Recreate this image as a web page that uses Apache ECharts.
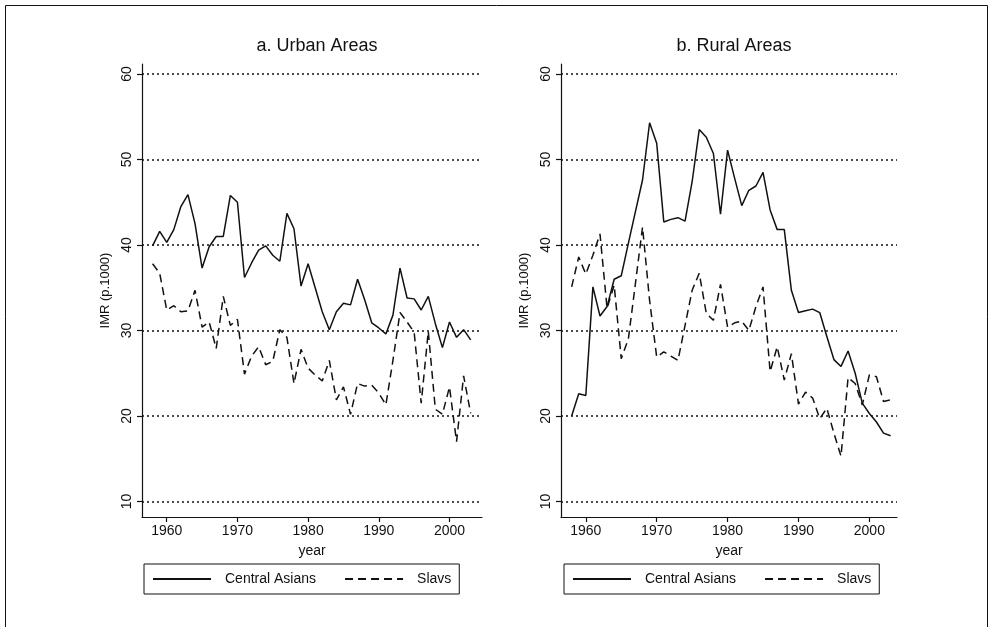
<!DOCTYPE html>
<html>
<head>
<meta charset="utf-8">
<script src="https://cdn.jsdelivr.net/npm/echarts@6/dist/echarts.min.js"></script>
<style>
  html, body { margin: 0; padding: 0; background: #fff; }
  #chart { width: 989px; height: 627px; }
</style>
</head>
<body>
<div id="chart"></div>
<script>
// years on the x axis
const years = [1958, 1959, 1960, 1961, 1962, 1963, 1964, 1965, 1966, 1967,
  1968, 1969, 1970, 1971, 1972, 1973, 1974, 1975, 1976, 1977,
  1978, 1979, 1980, 1981, 1982, 1983, 1984, 1985, 1986, 1987,
  1988, 1989, 1990, 1991, 1992, 1993, 1994, 1995, 1996, 1997,
  1998, 1999, 2000, 2001, 2002, 2003];

// a. Urban Areas
const urbanCentralAsians = [39.9, 41.6, 40.3, 41.8, 44.5, 45.9, 42.5, 37.3, 39.8, 41.0,
  41.0, 45.8, 45.0, 36.2, 37.9, 39.4, 39.9, 38.8, 38.1, 43.7,
  41.9, 35.2, 37.8, 35.0, 32.2, 30.1, 32.2, 33.2, 33.0, 36.0,
  33.6, 30.9, 30.3, 29.6, 31.8, 37.3, 33.8, 33.7, 32.4, 34.0,
  30.8, 28.0, 31.0, 29.2, 30.1, 28.9];
const urbanSlavs = [37.8, 36.7, 32.4, 32.9, 32.2, 32.3, 34.7, 30.4, 31.0, 27.9,
  34.0, 30.6, 31.3, 24.9, 27.0, 28.1, 26.0, 26.4, 30.1, 29.2,
  23.8, 27.8, 25.6, 24.8, 24.1, 26.5, 21.9, 23.4, 20.2, 23.8,
  23.5, 23.6, 22.7, 21.3, 26.5, 32.1, 31.0, 29.8, 21.5, 29.9,
  20.8, 20.2, 23.4, 17.0, 24.7, 20.3];

// b. Rural Areas
const ruralCentralAsians = [20.0, 22.6, 22.4, 35.1, 31.7, 32.8, 36.0, 36.4, 40.2, 43.9,
  47.6, 54.3, 51.9, 42.7, 43.0, 43.2, 42.8, 47.4, 53.5, 52.6,
  50.7, 43.6, 51.1, 47.8, 44.6, 46.4, 46.9, 48.5, 44.1, 41.8,
  41.8, 34.7, 32.1, 32.3, 32.5, 32.1, 29.3, 26.6, 25.8, 27.6,
  25.0, 21.5, 20.3, 19.3, 18.0, 17.7];
const ruralSlavs = [35.1, 38.6, 36.6, 38.8, 41.3, 32.6, 35.3, 26.7, 29.0, 35.5,
  42.1, 33.5, 26.9, 27.5, 27.0, 26.5, 30.6, 34.7, 36.7, 32.0,
  31.2, 35.4, 30.4, 30.9, 31.1, 30.0, 32.8, 35.1, 25.2, 28.1,
  24.2, 27.3, 21.4, 22.8, 22.1, 19.7, 20.9, 18.0, 15.3, 24.5,
  23.8, 21.3, 24.8, 24.6, 21.7, 21.9];

const yTicks = [10, 20, 30, 40, 50, 60];
const xTicks = [1960, 1970, 1980, 1990, 2000];
const panelTitles = ['a. Urban Areas', 'b. Rural Areas'];
const seriesNames = ['Central Asians', 'Slavs'];

const FONT = 'Liberation Sans, Arial, Helvetica, sans-serif';
const INK = '#111';

function pairs(vals) {
  return years.map((y, i) => [y, vals[i]]);
}

function xAxisFor(idx, max) {
  return {
    type: 'value', gridIndex: idx, min: 1956.5, max: max,
    name: 'year', nameLocation: 'middle', nameGap: 27,
    nameTextStyle: { fontFamily: FONT, fontSize: 14, color: INK },
    axisLine: { lineStyle: { color: INK, width: 1.2 } },
    axisTick: { show: true, length: 5, customValues: xTicks, lineStyle: { color: INK, width: 1.2 } },
    axisLabel: { customValues: xTicks, margin: 7, fontFamily: FONT, fontSize: 14, color: INK,
      formatter: v => String(v) },
    splitLine: { show: false }
  };
}

function yAxisFor(idx) {
  return {
    type: 'value', gridIndex: idx, min: 8.19, max: 61.17,
    name: 'IMR (p.1000)', nameLocation: 'middle', nameGap: 30,
    nameTextStyle: { fontFamily: FONT, fontSize: 13, color: INK },
    axisLine: { show: true, lineStyle: { color: INK, width: 1.2 } },
    axisTick: { show: true, length: 5, customValues: yTicks, lineStyle: { color: INK, width: 1.2 } },
    axisLabel: { customValues: yTicks, rotate: 90, margin: 8, fontFamily: FONT, fontSize: 14, color: INK },
    splitLine: { show: false }
  };
}

const gridMarks = {
  silent: true, symbol: 'none', label: { show: false },
  lineStyle: { color: INK, type: [2, 3], width: 1.5 },
  data: yTicks.map(v => ({ yAxis: v }))
};

function lineSeries(name, vals, idx, dashed, withGrid) {
  const s = {
    name: name, type: 'line', xAxisIndex: idx, yAxisIndex: idx,
    data: pairs(vals), symbol: 'none', animation: false,
    lineStyle: { color: INK, width: 1.5, type: dashed ? [8, 5] : 'solid' },
    itemStyle: { color: INK }
  };
  if (withGrid) s.markLine = gridMarks;
  return s;
}

function legendAt(left) {
  return {
    left: left, top: 564, data: seriesNames,
    borderColor: INK, borderWidth: 1, padding: [8, 8, 8, 8],
    itemWidth: 58, itemHeight: 12, itemGap: 28,
    itemStyle: { opacity: 0 },
    textStyle: { fontFamily: FONT, fontSize: 14, color: INK, padding: [0, 0, 0, 9] }
  };
}

const chart = echarts.init(document.getElementById('chart'));
chart.setOption({
  backgroundColor: '#fff',
  animation: false,
  title: [
    { text: panelTitles[0], left: 312, top: 32, textAlign: 'center',
      textStyle: { fontFamily: FONT, fontSize: 18, fontWeight: 'normal', color: INK } },
    { text: panelTitles[1], left: 729, top: 32, textAlign: 'center',
      textStyle: { fontFamily: FONT, fontSize: 18, fontWeight: 'normal', color: INK } }
  ],
  grid: [
    { left: 142, right: 507, top: 64, bottom: 110 },
    { left: 561, right: 92, top: 64, bottom: 110 }
  ],
  xAxis: [xAxisFor(0, 2004.6), xAxisFor(1, 2003.9)],
  yAxis: [yAxisFor(0), yAxisFor(1)],
  legend: [legendAt(144), legendAt(564)],
  graphic: [
    { type: 'rect', shape: { x: 5.5, y: 5.5, width: 982, height: 640 },
      style: { fill: 'none', stroke: INK, lineWidth: 1 }, silent: true }
  ],
  series: [
    lineSeries(seriesNames[0], urbanCentralAsians, 0, false, true),
    lineSeries(seriesNames[1], urbanSlavs, 0, true, false),
    lineSeries(seriesNames[0], ruralCentralAsians, 1, false, true),
    lineSeries(seriesNames[1], ruralSlavs, 1, true, false)
  ]
});
window.addEventListener('resize', () => chart.resize());
</script>
</body>
</html>
